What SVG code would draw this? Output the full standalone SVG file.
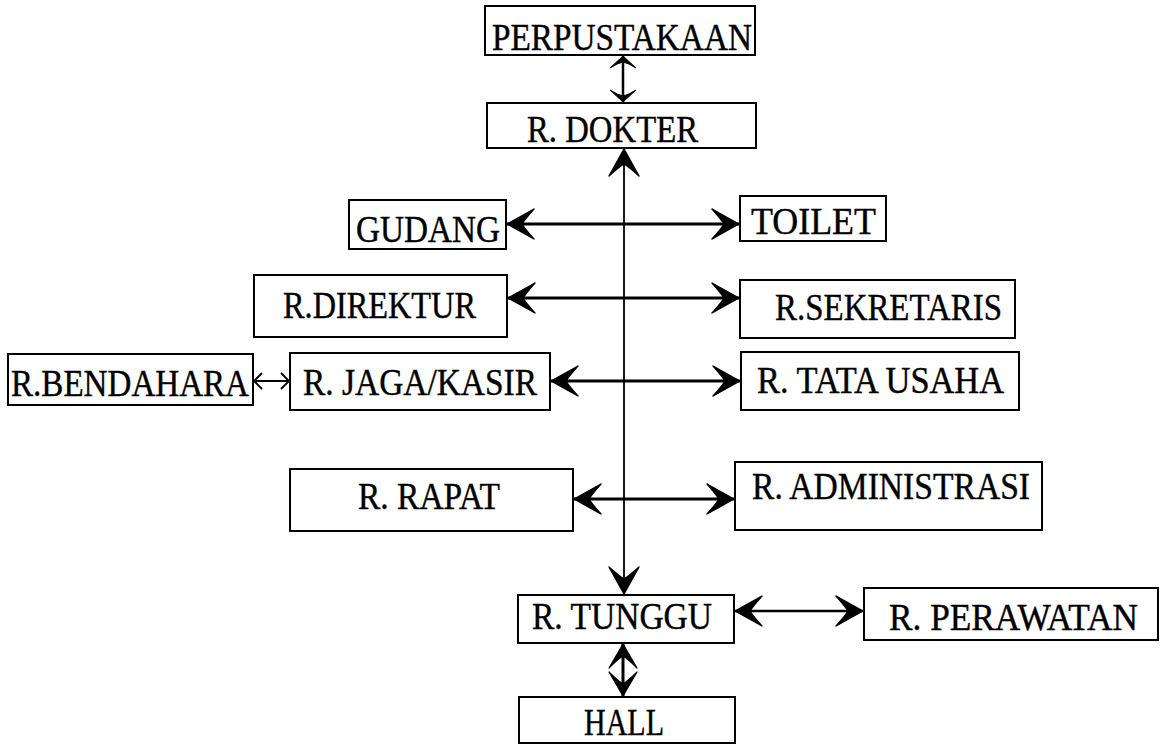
<svg xmlns="http://www.w3.org/2000/svg" width="1163" height="745" viewBox="0 0 1163 745">
  <style>
    .box { fill: #fff; stroke: #000; stroke-width: 2; }
    .lbl { font-family: "Liberation Serif", "Times New Roman", serif; font-size: 37px; fill: #000; stroke: #000; stroke-width: 0.4; }
    .link { fill: none; stroke: #000; }
  </style>
  <defs>
    <!-- barbed arrowhead, tip at origin -->
    <marker id="head" viewBox="-30 -17 32 34" refX="0" refY="0" markerWidth="32" markerHeight="34" markerUnits="userSpaceOnUse" orient="auto-start-reverse">
      <path d="M0,0 L-27,-15 Q-18,-5 -15,0 Q-18,5 -27,15 Z" fill="#000" stroke="#000" stroke-width="1.4" stroke-linejoin="round"/>
    </marker>
    <!-- slightly shorter head for the short TUNGGU-HALL link -->
    <marker id="mid" viewBox="-28 -15 30 30" refX="0" refY="0" markerWidth="30" markerHeight="30" markerUnits="userSpaceOnUse" orient="auto-start-reverse">
      <path d="M0,0 L-24,-14 Q-15,-5 -12,0 Q-15,5 -24,14 Z" fill="#000" stroke="#000" stroke-width="1.2" stroke-linejoin="round"/>
    </marker>
    <!-- flatter head for the short vertical link -->
    <marker id="flat" viewBox="-16 -15 18 30" refX="0" refY="0" markerWidth="18" markerHeight="30" markerUnits="userSpaceOnUse" orient="auto-start-reverse">
      <path d="M0,0 L-12,-13 Q-7,-5 -6,0 Q-7,5 -12,13 Z" fill="#000" stroke="#000" stroke-width="1" stroke-linejoin="round"/>
    </marker>
    <!-- small open head -->
    <marker id="small" viewBox="-12 -9 14 18" refX="0" refY="0" markerWidth="14" markerHeight="18" markerUnits="userSpaceOnUse" orient="auto-start-reverse">
      <path d="M-8,-8 L0,0 L-8,8" fill="none" stroke="#000" stroke-width="1.8"/>
    </marker>
  </defs>

  <g id="connectors">
    <line class="link" x1="623" y1="56" x2="623" y2="102" stroke-width="2.5" marker-start="url(#flat)" marker-end="url(#flat)"/>
    <line class="link" x1="624" y1="149" x2="624" y2="594" stroke-width="1.8" marker-start="url(#head)" marker-end="url(#head)"/>
    <line class="link" x1="623" y1="644" x2="623" y2="696" stroke-width="3" marker-start="url(#mid)" marker-end="url(#mid)"/>
    <line class="link" x1="507" y1="224" x2="739" y2="224" stroke-width="3" marker-start="url(#head)" marker-end="url(#head)"/>
    <line class="link" x1="508" y1="298" x2="739" y2="298" stroke-width="3" marker-start="url(#head)" marker-end="url(#head)"/>
    <line class="link" x1="551" y1="381" x2="740" y2="381" stroke-width="3" marker-start="url(#head)" marker-end="url(#head)"/>
    <line class="link" x1="254" y1="381" x2="289" y2="381" stroke-width="1.8" marker-start="url(#small)" marker-end="url(#small)"/>
    <line class="link" x1="574" y1="499" x2="734" y2="499" stroke-width="3" marker-start="url(#head)" marker-end="url(#head)"/>
    <line class="link" x1="735" y1="611" x2="863" y2="611" stroke-width="2.5" marker-start="url(#head)" marker-end="url(#head)"/>
  </g>

  <g id="perpustakaan">
    <rect class="box" x="485" y="6" width="270" height="49"/>
    <text class="lbl" x="492" y="50" textLength="260" lengthAdjust="spacingAndGlyphs">PERPUSTAKAAN</text>
  </g>
  <g id="r-dokter">
    <rect class="box" x="487" y="103" width="269" height="45"/>
    <text class="lbl" x="527" y="142" textLength="171" lengthAdjust="spacingAndGlyphs">R. DOKTER</text>
  </g>
  <g id="gudang">
    <rect class="box" x="349" y="200" width="157" height="49"/>
    <text class="lbl" x="356" y="242" textLength="144" lengthAdjust="spacingAndGlyphs">GUDANG</text>
  </g>
  <g id="toilet">
    <rect class="box" x="740" y="196" width="146" height="45"/>
    <text class="lbl" x="751" y="234" textLength="125" lengthAdjust="spacingAndGlyphs">TOILET</text>
  </g>
  <g id="r-direktur">
    <rect class="box" x="254" y="275" width="253" height="62"/>
    <text class="lbl" x="283" y="318" textLength="193" lengthAdjust="spacingAndGlyphs">R.DIREKTUR</text>
  </g>
  <g id="r-sekretaris">
    <rect class="box" x="740" y="280" width="275" height="58"/>
    <text class="lbl" x="775" y="320" textLength="227" lengthAdjust="spacingAndGlyphs">R.SEKRETARIS</text>
  </g>
  <g id="r-bendahara">
    <rect class="box" x="8" y="354" width="245" height="51"/>
    <text class="lbl" x="11" y="396" textLength="238" lengthAdjust="spacingAndGlyphs">R.BENDAHARA</text>
  </g>
  <g id="r-jaga-kasir">
    <rect class="box" x="290" y="353" width="260" height="57"/>
    <text class="lbl" x="303" y="395" textLength="234" lengthAdjust="spacingAndGlyphs">R. JAGA/KASIR</text>
  </g>
  <g id="r-tata-usaha">
    <rect class="box" x="741" y="352" width="278" height="58"/>
    <text class="lbl" x="757" y="393" textLength="247" lengthAdjust="spacingAndGlyphs">R. TATA USAHA</text>
  </g>
  <g id="r-rapat">
    <rect class="box" x="290" y="469" width="283" height="62"/>
    <text class="lbl" x="358" y="509" textLength="142" lengthAdjust="spacingAndGlyphs">R. RAPAT</text>
  </g>
  <g id="r-administrasi">
    <rect class="box" x="735" y="462" width="307" height="68"/>
    <text class="lbl" x="752" y="499" textLength="278" lengthAdjust="spacingAndGlyphs">R. ADMINISTRASI</text>
  </g>
  <g id="r-tunggu">
    <rect class="box" x="518" y="595" width="216" height="48"/>
    <text class="lbl" x="532" y="629" textLength="180" lengthAdjust="spacingAndGlyphs">R. TUNGGU</text>
  </g>
  <g id="r-perawatan">
    <rect class="box" x="864" y="588" width="294" height="52"/>
    <text class="lbl" x="889" y="630" textLength="249" lengthAdjust="spacingAndGlyphs">R. PERAWATAN</text>
  </g>
  <g id="hall">
    <rect class="box" x="519" y="697" width="216" height="46"/>
    <text class="lbl" x="584" y="735" textLength="80" lengthAdjust="spacingAndGlyphs">HALL</text>
  </g>
</svg>
